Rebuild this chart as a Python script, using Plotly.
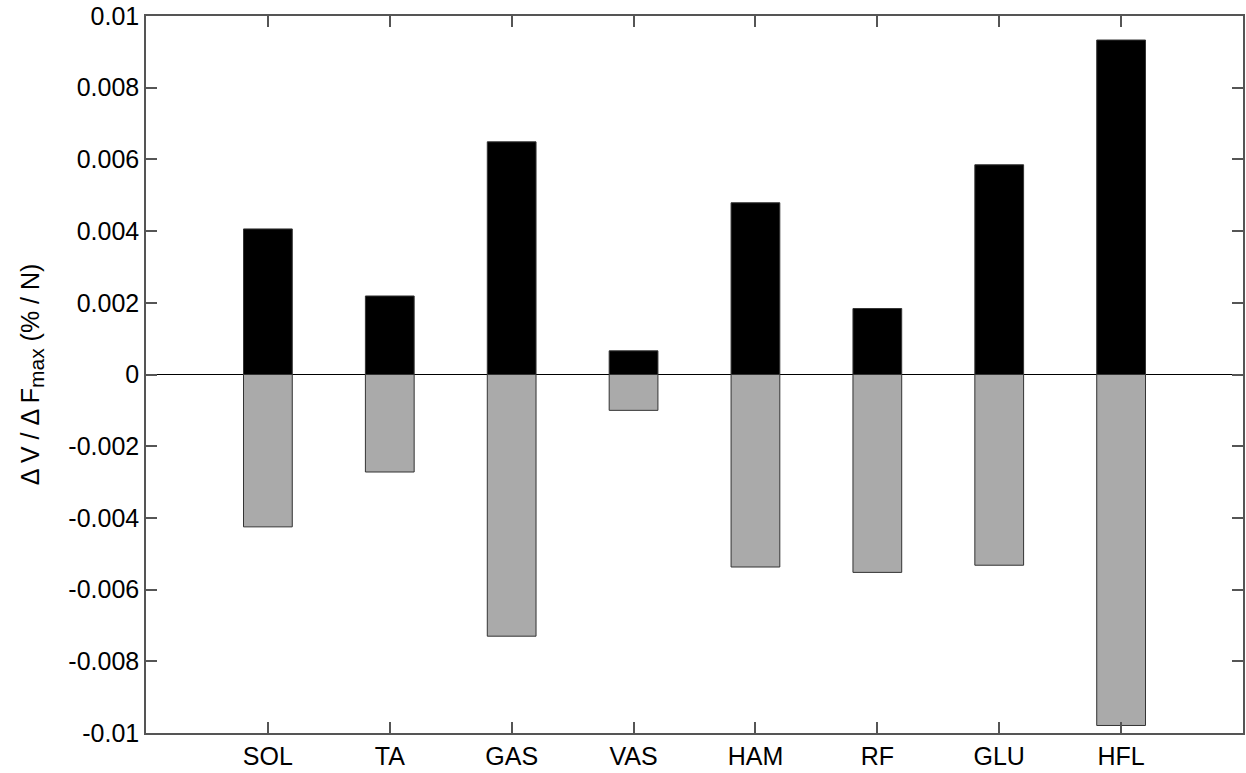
import plotly.graph_objects as go

muscles = ["SOL", "TA", "GAS", "VAS", "HAM", "RF", "GLU", "HFL"]
positive_vals = [0.00406, 0.00219, 0.00649, 0.00066, 0.00479, 0.00184, 0.00585, 0.00933]
negative_vals = [-0.00425, -0.00272, -0.00730, -0.00100, -0.00537, -0.00552, -0.00532, -0.00979]
y_tick_vals = [0.01, 0.008, 0.006, 0.004, 0.002, 0, -0.002, -0.004, -0.006, -0.008, -0.01]
y_tick_text = ["0.01", "0.008", "0.006", "0.004", "0.002", "0", "-0.002", "-0.004", "-0.006", "-0.008", "-0.01"]

xpos = list(range(1, len(muscles) + 1))

FONT = "Liberation Sans, Arial, sans-serif"

fig = go.Figure()
fig.add_trace(go.Bar(x=xpos, y=positive_vals, width=0.4, marker=dict(color="#000000", line=dict(color="#333333", width=1)), showlegend=False))
fig.add_trace(go.Bar(x=xpos, y=negative_vals, width=0.4, marker=dict(color="#aaaaaa", line=dict(color="#333333", width=1)), showlegend=False))

axis_common = dict(showline=True, linecolor="#555555", linewidth=1.5, mirror="ticks", ticks="inside",
                   ticklen=11, tickcolor="#555555", tickwidth=1.5, showgrid=False,
                   tickfont=dict(family=FONT, size=25, color="#000000"))

fig.update_layout(
    barmode="overlay",
    width=1246, height=773,
    margin=dict(l=146, r=1, t=16, b=40),
    plot_bgcolor="white", paper_bgcolor="white",
    xaxis=dict(range=[0, 9], tickvals=xpos, ticktext=muscles, zeroline=False, **axis_common),
    yaxis=dict(range=[-0.01, 0.01], tickvals=y_tick_vals, ticktext=y_tick_text,
               zeroline=True, zerolinecolor="#000000", zerolinewidth=1,
               title=dict(text="Δ V / Δ F<sub><span style='font-size:21px'>max</span></sub> (% / N)", standoff=22,
                          font=dict(family=FONT, size=25, color="#000000")),
               **axis_common),
)

fig.write_html("out.html")
